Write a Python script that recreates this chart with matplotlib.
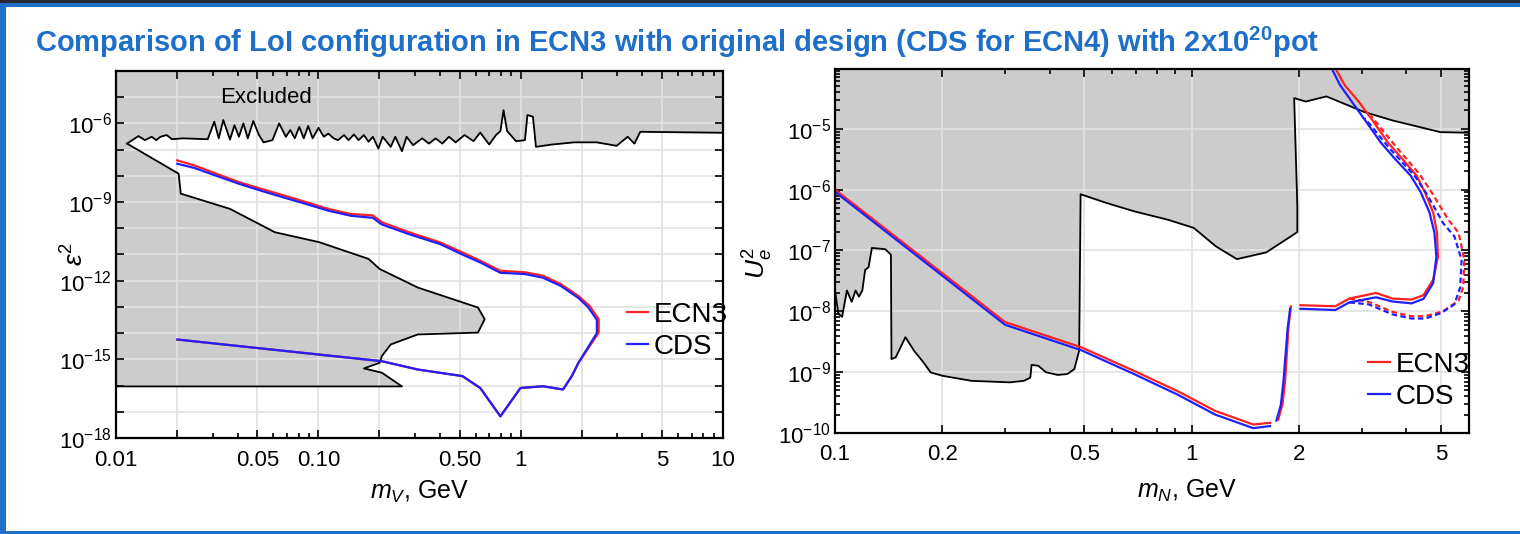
import numpy as np
import matplotlib
matplotlib.use('Agg')
import matplotlib.pyplot as plt
from matplotlib.patches import Rectangle
from matplotlib.ticker import FixedLocator, FixedFormatter, FuncFormatter, NullFormatter, LogLocator

plt.rcParams['font.family'] = ['Liberation Sans', 'DejaVu Sans']
plt.rcParams['mathtext.fontset'] = 'custom'
plt.rcParams['mathtext.rm'] = 'Liberation Sans'
plt.rcParams['mathtext.it'] = 'Liberation Sans:italic'
plt.rcParams['mathtext.bf'] = 'Liberation Sans:bold'
plt.rcParams['mathtext.sf'] = 'Liberation Sans'

## ---- data: dark photon (left panel) ----
vis_top_m = [0.01, 0.01135, 0.0129, 0.0139, 0.0150, 0.0158, 0.0166, 0.0178, 0.0189, 0.0214, 0.0284,
             0.0306, 0.0322, 0.0339, 0.0366, 0.0385, 0.0405, 0.0426, 0.0448, 0.0477, 0.0509, 0.0536,
             0.0593, 0.0640, 0.0691, 0.0727, 0.0765, 0.0805, 0.0847, 0.0891, 0.0937, 0.1002, 0.1064,
             0.112, 0.119, 0.125, 0.134, 0.141, 0.150, 0.158, 0.168, 0.177, 0.186, 0.198, 0.208,
             0.228, 0.240, 0.259, 0.273, 0.294, 0.326, 0.352, 0.380, 0.410, 0.442, 0.477, 0.528,
             0.585, 0.631, 0.699, 0.755, 0.794, 0.823, 0.857, 0.949, 1.05, 1.08, 1.15, 1.19, 1.43,
             1.84, 2.37, 2.98, 3.38, 3.65, 3.90, 10.0]
vis_top_eps = [1.7e-7, 1.7e-7, 3.3e-7, 2.3e-7, 3.1e-7, 2.3e-7, 3.1e-7, 3.6e-7, 2.5e-7, 2.7e-7, 2.5e-7,
               1.16e-6, 2.7e-7, 1.35e-6, 2.4e-7, 8.6e-7, 3.1e-7, 1.0e-6, 2.7e-7, 1.23e-6, 3.6e-7, 1.9e-7,
               2.3e-7, 1.0e-6, 3.1e-7, 5.6e-7, 2.7e-7, 7.4e-7, 2.7e-7, 8.0e-7, 2.7e-7, 6.8e-7, 3.1e-7,
               4.1e-7, 2.7e-7, 2.3e-7, 3.6e-7, 2.3e-7, 3.8e-7, 2.3e-7, 3.6e-7, 2.0e-7, 3.1e-7, 1.1e-7, 3.1e-7,
               1.28e-7, 3.1e-7, 8.7e-8, 3.1e-7, 1.48e-7, 2.7e-7, 1.7e-7, 2.7e-7, 1.7e-7, 3.1e-7, 1.9e-7, 3.6e-7,
               2.1e-7, 4.5e-7, 1.57e-7, 3.6e-7, 5.1e-7, 3.2e-6, 5.1e-7, 2.1e-7, 2.3e-7, 2.1e-6, 1.8e-6, 1.28e-7, 1.57e-7,
               1.9e-7, 1.9e-7, 1.4e-7, 3.1e-7, 1.7e-7, 4.8e-7, 4.4e-7]

vis_wedge_m = [0.01135, 0.0204, 0.0209, 0.0366, 0.0609, 0.101, 0.177, 0.201, 0.310, 0.615, 0.664,
               0.615, 0.310, 0.228, 0.206, 0.201, 0.168, 0.206, 0.259, 0.01]
vis_wedge_eps = [1.7e-7, 1.21e-8, 2.1e-9, 5.5e-10, 7.1e-11, 2.95e-11, 6.8e-12, 2.8e-12, 5.5e-13, 9.5e-14, 3.4e-14,
                 1.05e-14, 8.9e-15, 3.7e-15, 1.33e-15, 7.4e-16, 4.5e-16, 3.1e-16, 9.3e-17, 9.3e-17]

dp_ecn3_m = [0.0201, 0.0244, 0.0314, 0.0405, 0.0522, 0.0674, 0.0869, 0.112, 0.145, 0.186, 0.206, 0.280,
             0.400, 0.515, 0.631, 0.794, 1.05, 1.29, 1.58, 1.93, 2.19, 2.43, 2.43, 2.14, 1.93, 1.79, 1.62,
             1.29, 0.998, 0.794, 0.631, 0.515, 0.310, 0.206, 0.0201]
dp_ecn3_eps = [3.9e-8, 2.5e-8, 1.2e-8, 5.8e-9, 3.2e-9, 1.8e-9, 1.0e-9, 5.5e-10, 3.5e-10, 3.1e-10, 1.7e-10, 7.1e-11,
               2.9e-11, 1.2e-11, 5.8e-12, 2.4e-12, 2.1e-12, 1.55e-12, 7.4e-13, 2.6e-13, 1.1e-13, 3.4e-14, 1.05e-14,
               2.4e-15, 7.4e-16, 2.3e-16, 7.1e-17, 9.4e-17, 8.1e-17, 6.7e-18, 8.1e-17, 2.3e-16, 4.1e-16, 8.5e-16, 5.7e-15]
dp_cds_m = [0.0201, 0.0244, 0.0314, 0.0405, 0.0522, 0.0674, 0.0869, 0.112, 0.145, 0.186, 0.206, 0.280,
            0.400, 0.515, 0.631, 0.794, 1.05, 1.29, 1.58, 1.93, 2.15, 2.38, 2.38, 2.12, 1.93, 1.79, 1.62,
            1.29, 0.998, 0.794, 0.631, 0.515, 0.310, 0.206, 0.0201]
dp_cds_eps = [2.9e-8, 2.0e-8, 1.0e-8, 5.0e-9, 2.7e-9, 1.5e-9, 8.5e-10, 4.7e-10, 3.0e-10, 2.5e-10, 1.4e-10, 6.0e-11,
              2.5e-11, 1.0e-11, 5.0e-12, 2.0e-12, 1.8e-12, 1.3e-12, 6.3e-13, 2.2e-13, 1.0e-13, 3.2e-14, 1.0e-14,
              2.4e-15, 7.4e-16, 2.3e-16, 7.1e-17, 9.4e-17, 8.1e-17, 6.7e-18, 8.1e-17, 2.3e-16, 4.1e-16, 8.5e-16, 5.7e-15]

## ---- data: HNL (right panel) ----
hnl_bound_m = [0.1, 0.1022, 0.1047, 0.108, 0.1114, 0.1142, 0.1167, 0.1193, 0.1215, 0.1242, 0.1269, 0.1383,
               0.1435, 0.144, 0.148, 0.1576, 0.1665, 0.177, 0.1855, 0.2004, 0.2414, 0.309, 0.3387, 0.353,
               0.356, 0.372, 0.390, 0.421, 0.448, 0.469, 0.484, 0.4885, 0.574, 0.690, 0.858, 1.014, 1.17,
               1.34, 1.62, 1.98, 1.98, 1.94, 2.09, 2.39, 3.04, 3.66, 4.99, 6.0]
hnl_bound_u2 = [2.2e-8, 9.1e-9, 8.1e-9, 2.2e-8, 1.43e-8, 2.2e-8, 1.74e-8, 2.2e-8, 4.8e-8, 5.3e-8, 1.1e-7, 1.05e-7,
                8.5e-8, 1.64e-9, 1.75e-9, 3.76e-9, 2.26e-9, 1.45e-9, 9.9e-10, 8.7e-10, 7.2e-10, 6.8e-10, 7.2e-10, 8.1e-10,
                1.32e-9, 1.27e-9, 1.0e-9, 9.0e-10, 9.3e-10, 1.12e-9, 2.26e-9, 8.4e-7, 6.1e-7, 4.4e-7, 3.2e-7, 2.35e-7, 1.17e-7,
                7.2e-8, 9.3e-8, 2.0e-7, 5.4e-7, 3.2e-5, 2.8e-5, 3.4e-5, 1.9e-5, 1.37e-5, 8.8e-6, 8.6e-6]

hnl_ecn3_a_m = [0.1, 0.3, 0.49, 0.69, 0.912, 1.167, 1.49, 1.66]
hnl_ecn3_a_u2 = [1.0e-6, 6.65e-9, 2.57e-9, 1.05e-9, 4.9e-10, 2.3e-10, 1.38e-10, 1.47e-10]
hnl_cds_a_m = [0.1, 0.3, 0.49, 0.69, 0.912, 1.167, 1.49, 1.66]
hnl_cds_a_u2 = [9.2e-7, 6.0e-9, 2.3e-9, 9.3e-10, 4.3e-10, 2.0e-10, 1.2e-10, 1.3e-10]

hnl_ecn3_b_m = [1.75, 1.80, 1.83, 1.87, 1.90]
hnl_ecn3_b_u2 = [1.66e-10, 3.0e-10, 7.2e-10, 5.5e-9, 1.2e-8]
hnl_cds_b_m = [1.73, 1.78, 1.81, 1.86, 1.89]
hnl_cds_b_u2 = [1.6e-10, 2.9e-10, 7.0e-10, 5.3e-9, 1.1e-8]

hnl_ecn3_c_m = [2.02, 2.53, 2.77, 3.29, 3.66, 4.14, 4.47, 4.76, 4.91, 4.88, 4.76, 4.52, 4.28, 3.9, 3.55,
                3.24, 2.95, 2.69, 2.53]
hnl_ecn3_c_u2 = [1.26e-8, 1.21e-8, 1.62e-8, 2.0e-8, 1.62e-8, 1.56e-8, 1.84e-8, 3.3e-8, 7.9e-8, 1.95e-7, 4.2e-7,
                 8.9e-7, 1.69e-6, 3.2e-6, 6.0e-6, 1.3e-5, 2.75e-5, 5.2e-5, 9.9e-5]
hnl_cds_c_m = [2.02, 2.53, 2.77, 3.29, 3.66, 4.14, 4.47, 4.76, 4.86, 4.8, 4.65, 4.4, 4.12, 3.72, 3.39,
               3.09, 2.82, 2.61, 2.47]
hnl_cds_c_u2 = [1.1e-8, 1.05e-8, 1.4e-8, 1.7e-8, 1.45e-8, 1.35e-8, 1.6e-8, 2.9e-8, 7.9e-8, 1.95e-7, 4.2e-7,
                8.9e-7, 1.69e-6, 3.2e-6, 6.0e-6, 1.3e-5, 2.75e-5, 5.2e-5, 9.9e-5]

hnl_ecn3_d_m = [2.77, 3.14, 3.66, 4.14, 4.52, 5.07, 5.61, 5.78, 5.82, 5.61, 5.25, 4.72, 4.36, 3.72, 3.18]
hnl_ecn3_d_u2 = [1.62e-8, 1.43e-8, 9.8e-9, 8.3e-9, 8.3e-9, 1.0e-8, 1.5e-8, 2.5e-8, 7.0e-8, 1.95e-7, 3.2e-7,
                 8.9e-7, 1.8e-6, 5.3e-6, 1.65e-5]
hnl_cds_d_m = [2.77, 3.14, 3.66, 4.14, 4.52, 5.0, 5.46, 5.67, 5.72, 5.46, 5.08, 4.6, 4.22, 3.6, 3.06]
hnl_cds_d_u2 = [1.4e-8, 1.3e-8, 8.9e-9, 7.6e-9, 7.6e-9, 9.3e-9, 1.3e-8, 2.5e-8, 7.0e-8, 1.7e-7, 2.8e-7,
                7.9e-7, 1.7e-6, 4.7e-6, 1.5e-5]

left_xticks = [0.01, 0.02, 0.05, 0.1, 0.2, 0.5, 1, 2, 5, 10]
left_xlabels = ['0.01', '', '0.05', '0.10', '', '0.50', '1', '', '5', '10']
right_xticks = [0.1, 0.2, 0.5, 1, 2, 5]
right_xlabels = ['0.1', '0.2', '0.5', '1', '2', '5']

RED = '#ff2020'
BLUE = '#2020ff'
GRAY = '#cccccc'
GRID = '#e2e2e2'
SLIDE_BLUE = '#1f6fc8'

W, H = 1520, 534
fig = plt.figure(figsize=(15.2, 5.34), dpi=100)
fig.patch.set_facecolor('white')

# slide frame
fig.add_artist(Rectangle((0, 1 - 2.5 / H), 1, 2.5 / H, transform=fig.transFigure, color='#2a2a35', lw=0))
fig.add_artist(Rectangle((0, 1 - 7 / H), 1, 4.5 / H, transform=fig.transFigure, color=SLIDE_BLUE, lw=0))
fig.add_artist(Rectangle((0, 0), 6 / W, 1 - 7 / H, transform=fig.transFigure, color=SLIDE_BLUE, lw=0))
fig.add_artist(Rectangle((0, 0), 1, 3 / H, transform=fig.transFigure, color=SLIDE_BLUE, lw=0))

fig.text(35 / W, 1 - 42 / H,
         r'Comparison of LoI configuration in ECN3 with original design (CDS for ECN4) with 2x10$^{\mathbf{20}}$pot',
         color=SLIDE_BLUE, fontsize=21, fontweight='bold', ha='left', va='center')


def style_axes(ax):
    ax.set_xscale('log')
    ax.set_yscale('log')
    ax.set_axisbelow(False)
    ax.grid(True, which='major', color=GRID, lw=1.2, zorder=2)
    for s in ax.spines.values():
        s.set_linewidth(1.6)
        s.set_zorder(6)
    ax.tick_params(which='both', direction='in', top=True, right=True, labelsize=16, width=1.2)
    ax.tick_params(which='major', length=6)
    ax.tick_params(which='minor', length=3.5)


def pow_fmt(step):
    def f(v, pos):
        e = int(round(np.log10(v)))
        if e % step:
            return ''
        return r'$10^{%d}$' % e
    return FuncFormatter(f)


# ---------- left panel ----------
ax1 = fig.add_axes([116 / W, 1 - 438 / H, 607 / W, 367 / H])
style_axes(ax1)
ax1.set_xlim(0.01, 10)
ax1.set_ylim(1e-18, 1e-4)

ax1.fill_between(vis_top_m, vis_top_eps, 1e-4, color=GRAY, lw=0, zorder=1)
ax1.fill([0.01] + vis_wedge_m, [vis_top_eps[0]] + vis_wedge_eps, color=GRAY, lw=0, zorder=1)
ax1.plot(vis_top_m[1:], vis_top_eps[1:], color='black', lw=1.3, zorder=3)
ax1.plot(vis_wedge_m, vis_wedge_eps, color='black', lw=1.3, zorder=3)

ax1.plot(dp_ecn3_m, dp_ecn3_eps, color=RED, lw=1.6, zorder=4, label='ECN3')
ax1.plot(dp_cds_m, dp_cds_eps, color=BLUE, lw=1.6, zorder=5, label='CDS')

ax1.text(0.055, 1e-5, 'Excluded', fontsize=16, ha='center', va='center', zorder=7)

ax1.xaxis.set_major_locator(FixedLocator(left_xticks))
ax1.xaxis.set_major_formatter(FixedFormatter(left_xlabels))
ax1.xaxis.set_minor_locator(LogLocator(base=10, subs=np.arange(2, 10)))
ax1.xaxis.set_minor_formatter(NullFormatter())
ax1.yaxis.set_major_locator(FixedLocator([10.0 ** e for e in range(-18, -3)]))
ax1.yaxis.set_major_formatter(pow_fmt(3))
ax1.yaxis.set_minor_locator(FixedLocator([]))
ax1.tick_params(axis='x', pad=9)
ax1.tick_params(axis='y', pad=3)

ax1.set_xlabel(r'$m_V$, GeV', fontsize=18)
ax1.xaxis.set_label_coords(0.50, -0.112)
ax1.set_ylabel(r'$\varepsilon^2$', fontsize=19)
ax1.yaxis.set_label_coords(-0.045, 0.5)

ax1.legend(loc='center left', bbox_to_anchor=(0.842, 0.292), frameon=False, fontsize=20,
           handlelength=0.75, handletextpad=0.2, labelspacing=0.2, borderpad=0, borderaxespad=0)

# ---------- right panel ----------
ax2 = fig.add_axes([835 / W, 1 - 433 / H, 634 / W, 364 / H])
style_axes(ax2)
ax2.set_xlim(0.1, 6.0)
ax2.set_ylim(1e-10, 9.6e-5)

ax2.fill(hnl_bound_m + [6.0, 0.1], hnl_bound_u2 + [1e-4, 1e-4], color=GRAY, lw=0, zorder=1)
ax2.plot(hnl_bound_m, hnl_bound_u2, color='black', lw=1.3, zorder=3)

for m, u, c, z in [(hnl_ecn3_a_m, hnl_ecn3_a_u2, RED, 4), (hnl_cds_a_m, hnl_cds_a_u2, BLUE, 5),
                   (hnl_ecn3_b_m, hnl_ecn3_b_u2, RED, 4), (hnl_cds_b_m, hnl_cds_b_u2, BLUE, 5),
                   (hnl_ecn3_c_m, hnl_ecn3_c_u2, RED, 4), (hnl_cds_c_m, hnl_cds_c_u2, BLUE, 5)]:
    ax2.plot(m, u, color=c, lw=1.6, zorder=z)
ax2.plot(hnl_ecn3_d_m, hnl_ecn3_d_u2, color=RED, lw=1.6, ls=(0, (2.5, 1.5)), zorder=4)
ax2.plot(hnl_cds_d_m, hnl_cds_d_u2, color=BLUE, lw=1.6, ls=(0, (2.5, 1.5)), zorder=5)

ax2.plot([], [], color=RED, lw=1.6, label='ECN3')
ax2.plot([], [], color=BLUE, lw=1.6, label='CDS')

ax2.xaxis.set_major_locator(FixedLocator(right_xticks))
ax2.xaxis.set_major_formatter(FixedFormatter(right_xlabels))
ax2.xaxis.set_minor_locator(LogLocator(base=10, subs=np.arange(2, 10)))
ax2.xaxis.set_minor_formatter(NullFormatter())
ax2.yaxis.set_major_locator(FixedLocator([10.0 ** e for e in range(-10, -4)]))
ax2.yaxis.set_major_formatter(pow_fmt(1))
ax2.yaxis.set_minor_locator(LogLocator(base=10, subs=np.arange(2, 10)))
ax2.yaxis.set_minor_formatter(NullFormatter())
ax2.tick_params(axis='x', pad=8)
ax2.tick_params(axis='y', pad=3)

ax2.set_xlabel(r'$m_N$, GeV', fontsize=18)
ax2.xaxis.set_label_coords(0.555, -0.122)
ax2.set_ylabel(r'$U_e^2$', fontsize=19)
ax2.yaxis.set_label_coords(-0.095, 0.467)

ax2.legend(loc='center left', bbox_to_anchor=(0.841, 0.143), frameon=False, fontsize=20,
           handlelength=0.8, handletextpad=0.2, labelspacing=0.2, borderpad=0, borderaxespad=0)

fig.savefig('out.png', dpi=100)
